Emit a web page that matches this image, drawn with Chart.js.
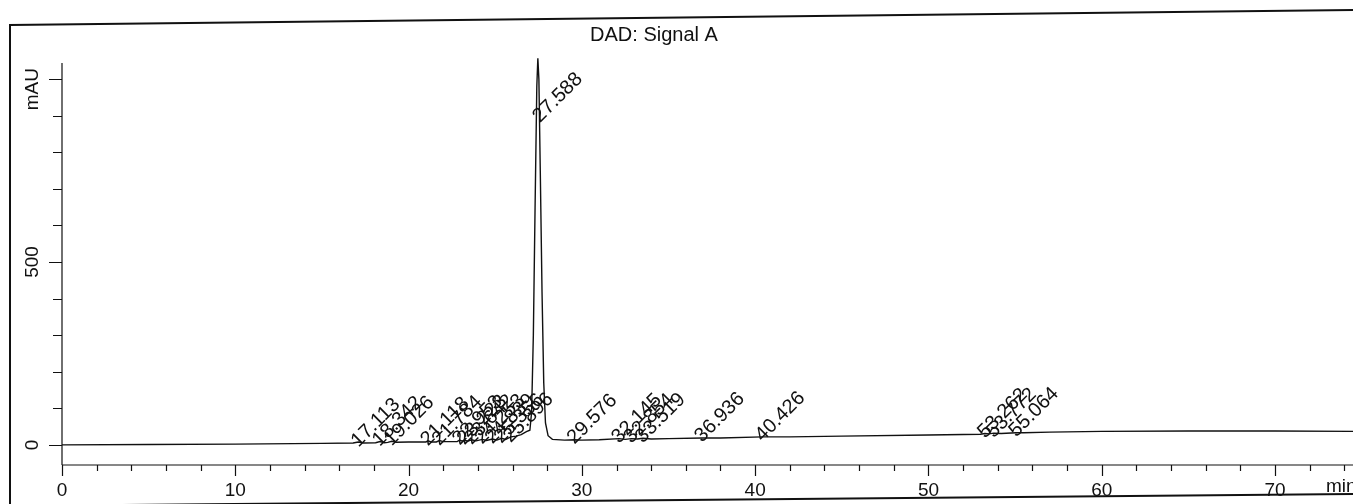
<!DOCTYPE html>
<html>
<head>
<meta charset="utf-8">
<title>DAD: Signal A</title>
<script src="https://cdn.jsdelivr.net/npm/chart.js@4.4.1/dist/chart.umd.min.js"></script>
<style>
    html, body { margin: 0; padding: 0; background: #fff; }
    #chart { display: block; }
</style>
</head>
<body>
<canvas id="chart" width="1353" height="504"></canvas>
<script>
// ------------------------------------------------------- //
// Data
// ------------------------------------------------------ //
var times = [0, 5, 10, 15, 16.8, 17.1, 17.4, 18.1, 18.35, 18.6, 18.8, 19.03, 19.3, 20,
    21.0, 21.12, 21.3, 21.6, 21.78, 22.0, 22.8, 22.95, 23.1, 23.22, 23.4, 23.64, 23.9,
    24.25, 24.5, 24.84, 25.1, 25.36, 25.6, 25.9, 26.2, 26.5, 26.8, 27.0, 27.1, 27.2,
    27.3, 27.4, 27.46, 27.52, 27.6, 27.7, 27.8, 27.9, 28.05, 28.3, 29, 29.58, 30, 31,
    32.15, 32.5, 32.85, 33.2, 33.52, 34, 35, 36.94, 38, 40.43, 42, 45, 50, 53, 53.26,
    53.5, 53.77, 54.2, 55.06, 55.5, 57, 60, 65, 70, 74.5];

var signal = [0, 1, 2, 4, 5, 8, 5, 6, 9, 6, 7, 10, 7, 8,
    8, 11, 8, 8, 12, 9, 9, 13, 10, 13, 10, 14, 11,
    15, 12, 16, 13, 18, 15, 22, 24, 28, 36, 40, 90, 300,
    650, 980, 1057, 1000, 750, 420, 170, 60, 25, 15, 13, 14, 13, 14,
    17, 15, 17, 16, 18, 16, 17, 19, 19, 22, 22, 24, 27, 29, 31,
    30, 32, 31, 33, 33, 35, 37, 38, 38, 37];

// peak annotations: retention time, label text, mAU level where the label starts
var peakTimes = [17.113, 18.342, 19.026, 21.118, 21.784, 22.953, 23.223, 23.642, 24.253,
    24.839, 25.356, 25.896, 27.588, 29.576, 32.145, 32.854, 33.519, 36.936, 40.426,
    53.262, 53.772, 55.064];
var peakLabels = ["17.113", "18.342", "19.026", "21.118", "21.784", "22.953", "23.223",
    "23.642", "24.253", "24.839", "25.356", "25.896", "27.588", "29.576", "32.145",
    "32.854", "33.519", "36.936", "40.426", "53.262", "53.772", "55.064"];
var peakLevels = [6, 8, 9, 9, 10, 11, 12, 13, 14, 15, 16, 18, 893, 14, 16, 16, 17, 19, 21,
    30, 31, 33];

var xTicksMajor = [0, 10, 20, 30, 40, 50, 60, 70];
var yTickLabels = ["0", "500"];
var yTickValues = [0, 500];

var FONT = '"Liberation Sans", Arial, Helvetica, sans-serif';

// ------------------------------------------------------- //
// Axes, frame and peak labels (drawn through the scales)
// ------------------------------------------------------ //
var chromPlugin = {
    id: 'chrom',
    afterDatasetsDraw: function (chart) {
        var ctx = chart.ctx;
        var xs = chart.scales.x;
        var ys = chart.scales.y;
        var area = chart.chartArea;

        ctx.save();
        ctx.strokeStyle = '#111';
        ctx.fillStyle = '#111';

        // frame (the scan is slightly tilted)
        ctx.lineWidth = 2;
        ctx.beginPath();
        ctx.moveTo(1360, 10);
        ctx.lineTo(10, 25);
        ctx.lineTo(10, 510);
        ctx.moveTo(10, 506);
        ctx.lineTo(1360, 494);
        ctx.stroke();

        // title
        ctx.font = '20px ' + FONT;
        ctx.textAlign = 'center';
        ctx.textBaseline = 'middle';
        ctx.fillText('DAD: Signal A', 654, 35);

        // y axis
        ctx.lineWidth = 1.2;
        ctx.beginPath();
        ctx.moveTo(area.left, area.top);
        ctx.lineTo(area.left, area.bottom);
        for (var v = 0; v <= 1000; v += 100) {
            var py = Math.round(ys.getPixelForValue(v)) + 0.5;
            var len = (v % 500 === 0) ? 13 : 9;
            ctx.moveTo(area.left - len, py);
            ctx.lineTo(area.left, py);
        }
        ctx.stroke();

        ctx.font = '19px ' + FONT;
        for (var i = 0; i < yTickValues.length; i++) {
            ctx.save();
            ctx.translate(33, ys.getPixelForValue(yTickValues[i]));
            ctx.rotate(-Math.PI / 2);
            ctx.fillText(yTickLabels[i], 0, 0);
            ctx.restore();
        }
        ctx.save();
        ctx.translate(33, ys.getPixelForValue(1000) + 10);
        ctx.rotate(-Math.PI / 2);
        ctx.fillText('mAU', 0, 0);
        ctx.restore();

        // x axis
        ctx.beginPath();
        ctx.moveTo(area.left, area.bottom);
        ctx.lineTo(area.right, area.bottom);
        for (var t = 0; t <= xs.max; t += 2) {
            var px = Math.round(xs.getPixelForValue(t)) + 0.5;
            var tl = (t % 10 === 0) ? 11 : 6;
            ctx.moveTo(px, area.bottom);
            ctx.lineTo(px, area.bottom + tl);
        }
        ctx.stroke();

        ctx.textBaseline = 'middle';
        for (var j = 0; j < xTicksMajor.length; j++) {
            ctx.fillText(String(xTicksMajor[j]), xs.getPixelForValue(xTicksMajor[j]), 491);
        }
        ctx.textAlign = 'left';
        ctx.fillText('min', 1326, 487);

        // peak labels, rotated 45 degrees
        ctx.font = '20px ' + FONT;
        ctx.textBaseline = 'alphabetic';
        for (var k = 0; k < peakTimes.length; k++) {
            ctx.save();
            ctx.translate(xs.getPixelForValue(peakTimes[k]), ys.getPixelForValue(peakLevels[k]) + 5);
            ctx.rotate(-Math.PI / 4);
            ctx.fillText(peakLabels[k], 0, 0);
            ctx.restore();
        }
        ctx.restore();
    }
};

// ------------------------------------------------------- //
// Chart
// ------------------------------------------------------ //
var ctx = document.getElementById('chart').getContext('2d');
var chromChart = new Chart(ctx, {
    type: 'line',
    data: {
        datasets: [{
            label: 'DAD: Signal A',
            data: times.map(function (t, i) { return { x: t, y: signal[i] }; }),
            borderColor: '#111',
            borderWidth: 1.4,
            pointRadius: 0,
            tension: 0,
            fill: false,
            clip: { left: 0, top: 10, right: 0, bottom: 0 }
        }]
    },
    options: {
        responsive: false,
        animation: false,
        devicePixelRatio: 1,
        layout: { padding: { left: 62, top: 63, right: 0, bottom: 39 } },
        plugins: {
            legend: { display: false },
            tooltip: { enabled: false },
            title: { display: false }
        },
        scales: {
            x: { type: 'linear', min: 0, max: 74.5, display: false },
            y: { type: 'linear', min: -55, max: 1044, display: false }
        }
    },
    plugins: [chromPlugin]
});
</script>
</body>
</html>
